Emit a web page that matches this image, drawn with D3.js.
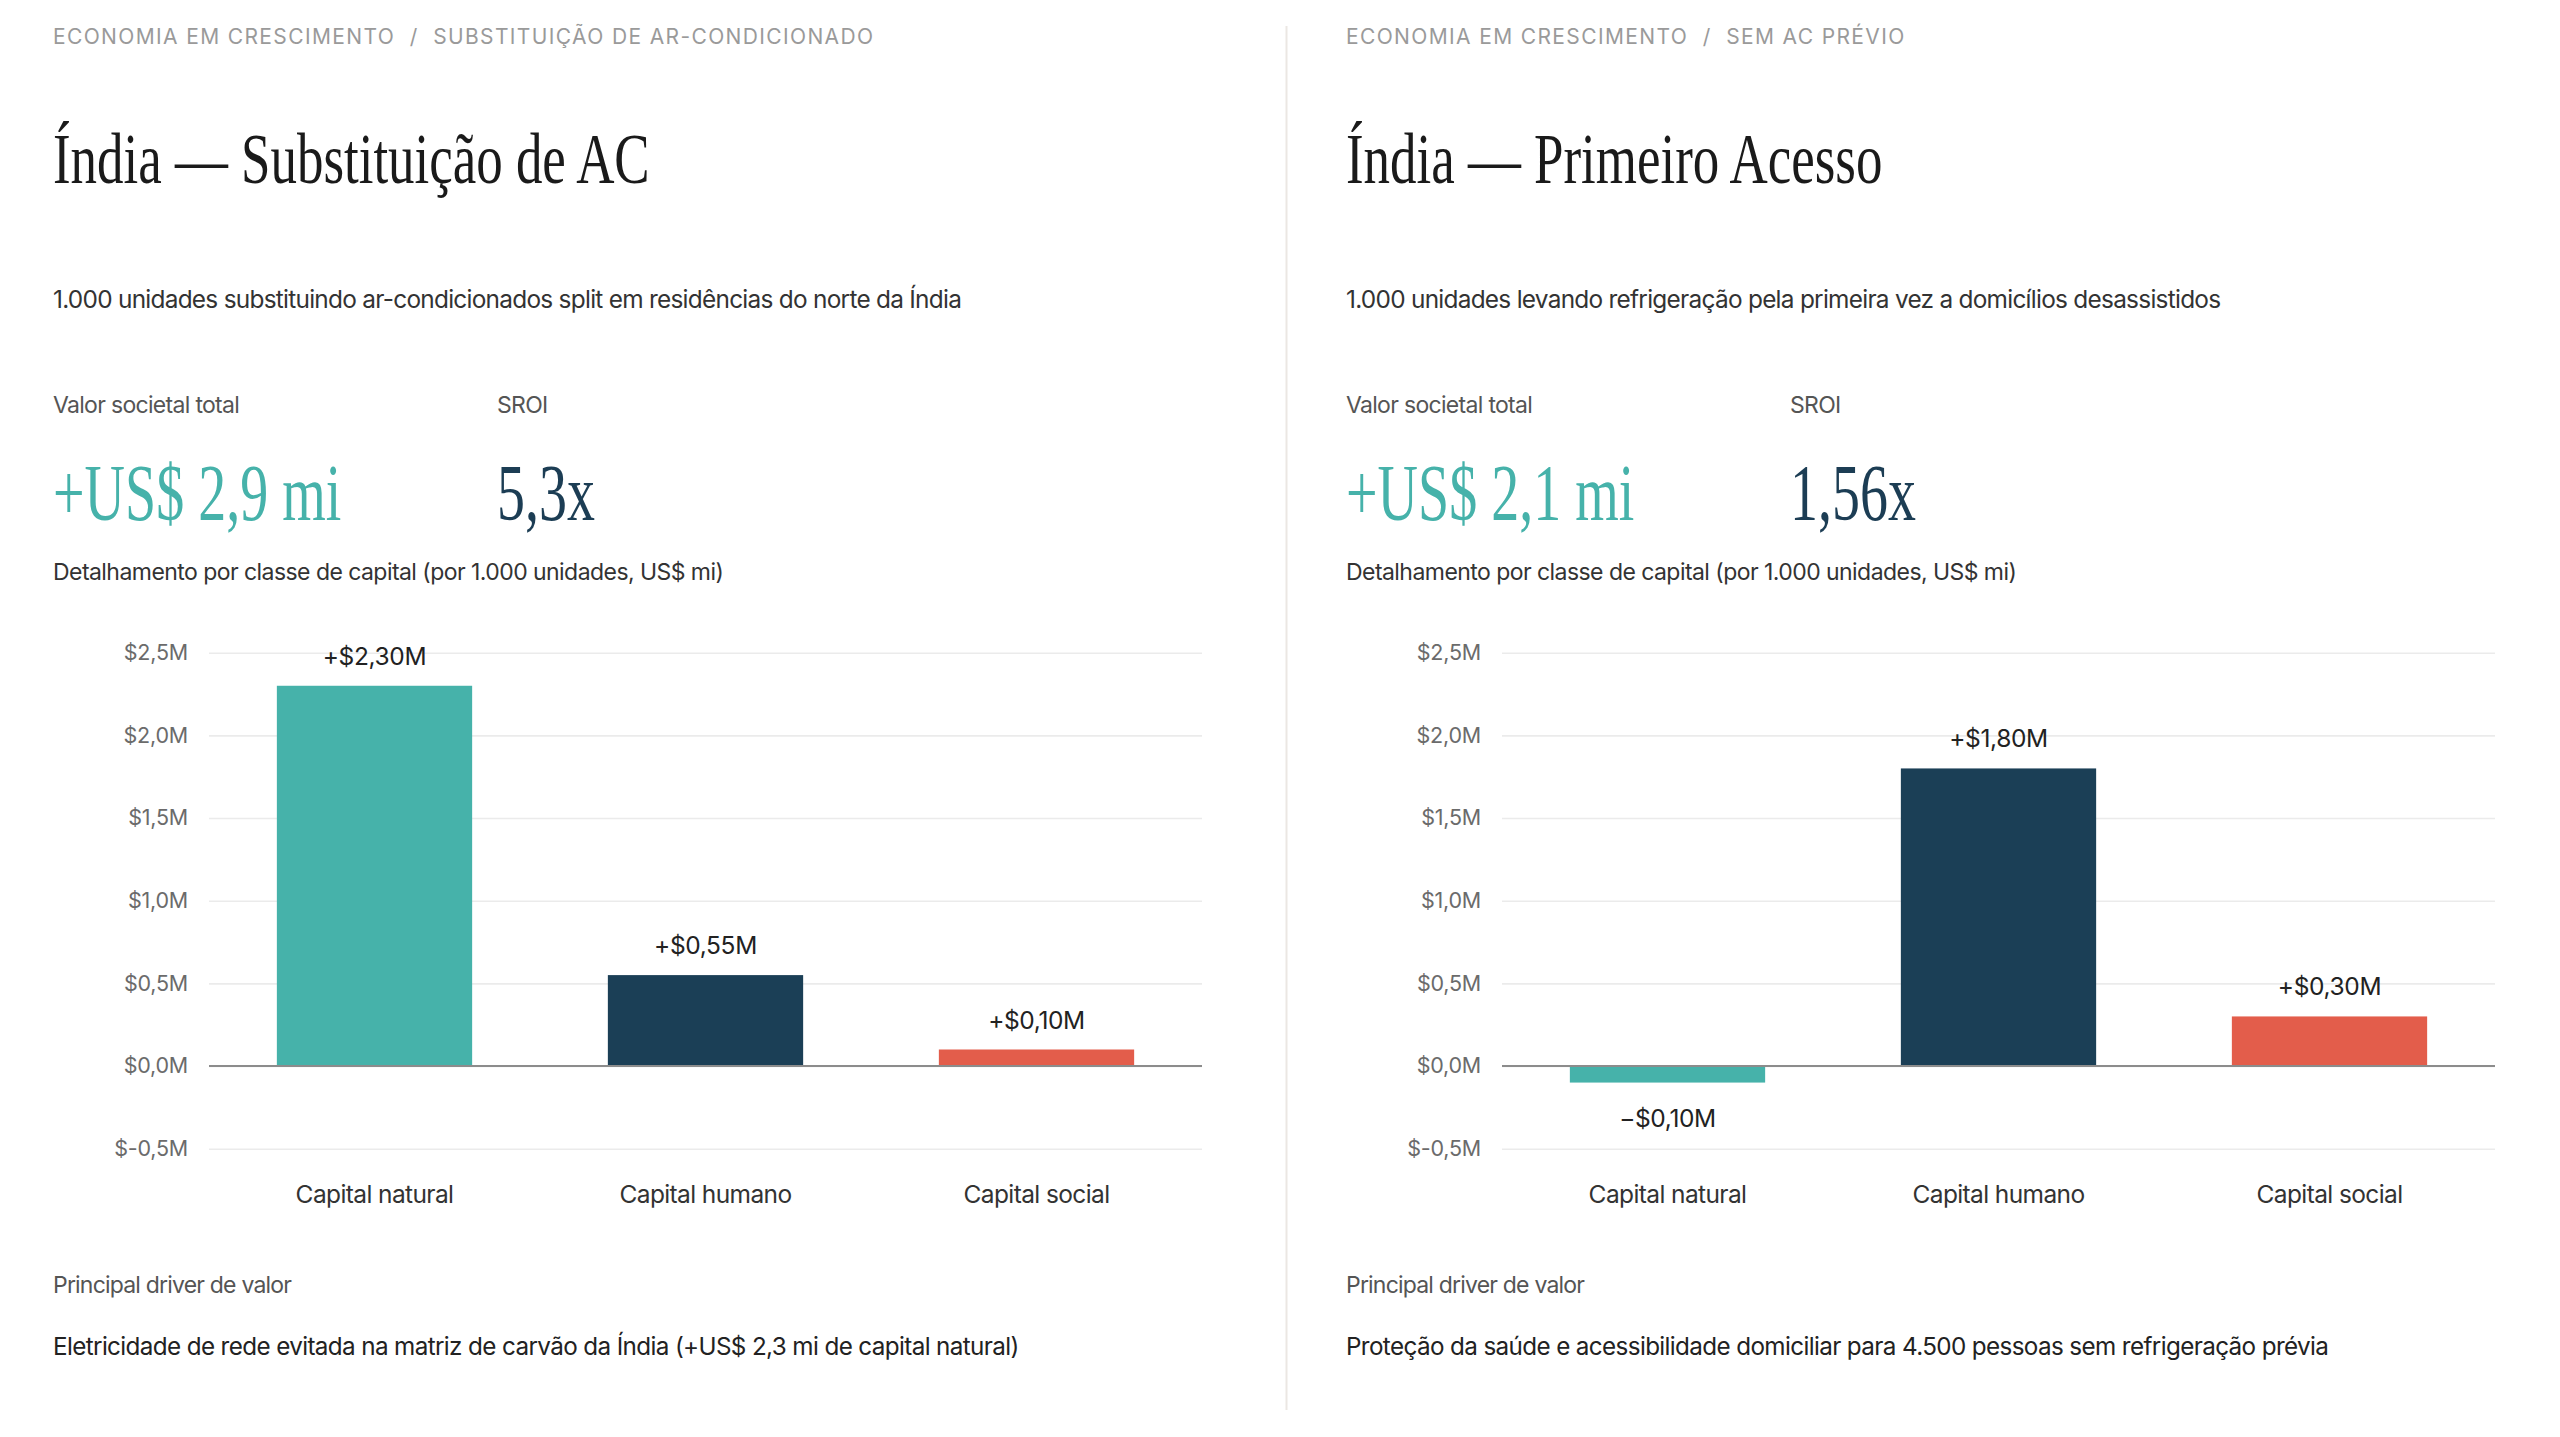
<!DOCTYPE html>
<html><head><meta charset="utf-8">
<script src="https://cdn.jsdelivr.net/npm/d3@7"></script>
<style>
html,body{margin:0;padding:0;background:#fff;}
svg{display:block}
text{white-space:pre}
</style></head><body>
<svg id="chart" width="2560" height="1437"></svg>
<script>
// ---- data ----
const categories = ["Capital natural", "Capital humano", "Capital social"];
const replacementValues = [2.30, 0.55, 0.10];
const firstAccessValues = [-0.10, 1.80, 0.30];
const yTicks = [-0.5, 0, 0.5, 1.0, 1.5, 2.0, 2.5];
const breadcrumbs = ["ECONOMIA EM CRESCIMENTO  /  SUBSTITUIÇÃO DE AR-CONDICIONADO", "ECONOMIA EM CRESCIMENTO  /  SEM AC PRÉVIO"];
const titles = ["Índia — Substituição de AC", "Índia — Primeiro Acesso"];
const subtitles = ["1.000 unidades substituindo ar-condicionados split em residências do norte da Índia",
                   "1.000 unidades levando refrigeração pela primeira vez a domicílios desassistidos"];
const totalLabel = "Valor societal total";
const sroiLabel = "SROI";
const totalValues = ["+US$ 2,9 mi", "+US$ 2,1 mi"];
const sroiValues = ["5,3x", "1,56x"];
const breakdownLabel = "Detalhamento por classe de capital (por 1.000 unidades, US$ mi)";
const driverLabel = "Principal driver de valor";
const driverTexts = ["Eletricidade de rede evitada na matriz de carvão da Índia (+US$ 2,3 mi de capital natural)",
                     "Proteção da saúde e acessibilidade domiciliar para 4.500 pessoas sem refrigeração prévia"];
const panelValues = [replacementValues, firstAccessValues];

// ---- styles ----
const barColors = ["#46b2aa", "#1b3f56", "#e35d4b"];
const SANS = "Inter, 'Noto Sans', sans-serif";
const SERIF = "'Liberation Serif', 'DejaVu Serif', serif";
const titleScale = 0.735;
const bigScale = 0.7;

const svg = d3.select("#chart");
svg.append("rect").attr("width", 2560).attr("height", 1437).attr("fill", "#fff");

// divider
svg.append("line").attr("x1", 1286.5).attr("x2", 1286.5).attr("y1", 26).attr("y2", 1410)
   .attr("stroke", "#ebe7e3").attr("stroke-width", 2);

const fmtTick = v => "$" + v.toFixed(1).replace(".", ",") + "M";
const fmtVal = v => (v < 0 ? "\u2212" : "+") + "$" + Math.abs(v).toFixed(2).replace(".", ",") + "M";

function drawPanel(i) {
  const g = svg.append("g").attr("transform", `translate(${i * 1293},0)`);
  const L = 53;

  g.append("text").attr("x", L).attr("y", 44).text(breadcrumbs[i])
    .attr("font-family", SANS).attr("font-size", 21).attr("letter-spacing", "0.065em").attr("fill", "#9a9a9a");

  g.append("text").attr("transform", `translate(${L},183) scale(${titleScale},1)`).text(titles[i])
    .attr("font-family", SERIF).attr("font-size", 72).attr("fill", "#1a1a1a");

  g.append("text").attr("x", L).attr("y", 308).text(subtitles[i])
    .attr("font-family", SANS).attr("font-size", 24.4).attr("letter-spacing", "-0.03em").attr("fill", "#333");

  g.append("text").attr("x", L).attr("y", 413).text(totalLabel)
    .attr("font-family", SANS).attr("font-size", 23).attr("letter-spacing", "-0.03em").attr("fill", "#555");
  g.append("text").attr("x", 497).attr("y", 413).text(sroiLabel)
    .attr("font-family", SANS).attr("font-size", 23).attr("letter-spacing", "-0.03em").attr("fill", "#555");

  g.append("text").attr("transform", `translate(${L},520) scale(${bigScale},1)`).text(totalValues[i])
    .attr("font-family", SERIF).attr("font-size", 80).attr("fill", "#46b2aa");
  g.append("text").attr("transform", `translate(497,520) scale(${bigScale},1)`).text(sroiValues[i])
    .attr("font-family", SERIF).attr("font-size", 80).attr("fill", "#1c3d54");

  g.append("text").attr("x", L).attr("y", 580).text(breakdownLabel)
    .attr("font-family", SANS).attr("font-size", 23).attr("letter-spacing", "-0.024em").attr("fill", "#333");

  // chart
  const x = d3.scaleBand().domain(categories).range([209, 1202]).paddingInner(0.41).paddingOuter(0.205);
  const y = d3.scaleLinear().domain([-0.5, 2.5]).range([1148.7, 652.7]);

  const yAxis = g.append("g").attr("transform", "translate(209,0)")
    .call(d3.axisLeft(y).tickValues(yTicks).tickFormat(fmtTick).tickSizeInner(-(1202 - 209)).tickSizeOuter(0).tickPadding(21));
  yAxis.select(".domain").remove();
  yAxis.selectAll(".tick line").attr("stroke", "#ebebeb").attr("stroke-width", 1.6);
  yAxis.selectAll(".tick text").attr("font-family", SANS).attr("font-size", 21.5)
    .attr("letter-spacing", "-0.01em").attr("fill", "#6b6b6b");

  const vals = panelValues[i];
  const data = categories.map((c, k) => ({c, v: vals[k], color: barColors[k]}));

  g.selectAll("rect.bar").data(data).enter().append("rect").attr("class", "bar")
    .attr("x", d => x(d.c)).attr("width", x.bandwidth())
    .attr("y", d => y(Math.max(0, d.v))).attr("height", d => Math.abs(y(d.v) - y(0)))
    .attr("fill", d => d.color);

  // zero line
  g.append("line").attr("x1", 209).attr("x2", 1202).attr("y1", y(0)).attr("y2", y(0))
    .attr("stroke", "#8c8c8c").attr("stroke-width", 2);

  g.selectAll("text.val").data(data).enter().append("text").attr("class", "val")
    .attr("x", d => x(d.c) + x.bandwidth() / 2)
    .attr("y", d => d.v >= 0 ? y(d.v) - 21 : y(d.v) + 44)
    .attr("text-anchor", "middle").text(d => fmtVal(d.v))
    .attr("font-family", SANS).attr("font-size", 24.5).attr("letter-spacing", "-0.015em").attr("fill", "#222");

  const xAxis = g.append("g").attr("transform", "translate(0,1148.7)")
    .call(d3.axisBottom(x).tickSize(0));
  xAxis.select(".domain").remove();
  xAxis.selectAll(".tick text").attr("y", 54.3).attr("dy", 0)
    .attr("font-family", SANS).attr("font-size", 24.5).attr("letter-spacing", "-0.025em").attr("fill", "#333");

  g.append("text").attr("x", L).attr("y", 1293).text(driverLabel)
    .attr("font-family", SANS).attr("font-size", 23).attr("letter-spacing", "-0.035em").attr("fill", "#555");
  g.append("text").attr("x", L).attr("y", 1355).text(driverTexts[i])
    .attr("font-family", SANS).attr("font-size", 24.25).attr("letter-spacing", "-0.026em").attr("fill", "#222");
}

drawPanel(0);
drawPanel(1);
</script>
</body></html>
